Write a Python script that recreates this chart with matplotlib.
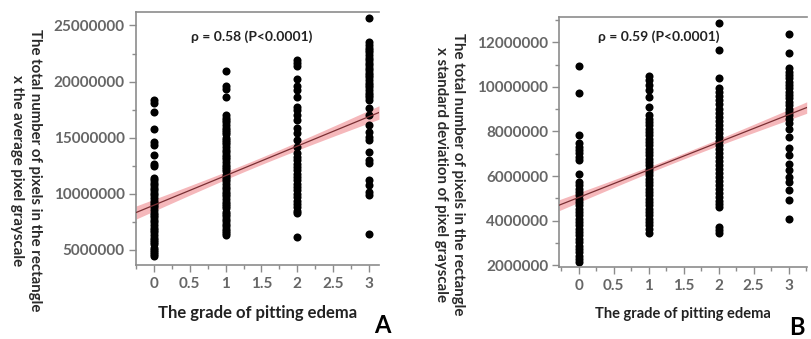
import matplotlib
matplotlib.use("Agg")
import matplotlib.pyplot as plt
from matplotlib.ticker import MultipleLocator, FixedLocator
import numpy as np

# ---- data (values in millions) ----
grades = [0, 1, 2, 3]

a_g0 = [18.4, 18.1, 17.3, 15.8, 14.6, 14.35, 13.5, 12.7, 12.5,
        11.4, 11.2, 11.0, 10.8, 10.5, 10.3, 10.1, 9.9, 9.6, 9.4, 9.2, 9.0,
        8.8, 8.6, 8.3, 8.1, 7.9, 7.7, 7.5, 7.2, 7.0, 6.8, 6.6, 6.3, 6.1,
        5.9, 5.7, 5.5, 5.2, 5.0, 4.8, 4.6, 4.45]
a_g1 = [20.9, 19.6, 19.3, 18.6,
        17.0, 16.8, 16.6, 16.4, 16.1, 15.9, 15.7, 15.5, 15.3, 15.0, 14.8,
        14.6, 14.4, 14.2, 13.9, 13.7, 13.5, 13.3, 13.1, 12.8, 12.6, 12.4,
        12.2, 12.0, 11.7, 11.5, 11.3, 11.1, 10.9, 10.6, 10.4, 10.2, 10.0,
        9.8, 9.5, 9.3, 9.1, 8.9, 8.7, 8.4, 8.2, 8.0, 7.8, 7.6, 7.3, 7.1,
        6.9, 6.7, 6.5, 6.3]
a_g2 = [21.94, 21.64, 21.35, 20.24, 19.62, 19.26, 18.67, 17.78, 17.48,
        17.03, 16.59, 15.84, 15.4, 14.8, 14.21,
        13.6, 13.3, 13.0, 12.7, 12.4, 12.1, 11.8, 11.5, 11.2, 10.9, 10.6,
        10.3, 10.0, 9.7, 9.4, 9.1, 8.8, 8.5, 8.25, 6.16]
a_g3 = [25.7, 23.57, 23.27, 23.0, 22.83, 22.6, 22.38, 22.1, 21.94, 21.7,
        21.49, 21.2, 21.05, 20.8, 20.6, 20.4, 20.16, 19.9, 19.71, 19.5,
        19.26, 19.0, 18.82, 18.6, 18.37, 17.63, 17.03, 16.14, 15.55, 15.1,
        14.8, 13.76, 13.02, 12.72, 11.23, 10.79, 10.2, 9.9, 6.46]

b_g0 = [10.95, 9.74, 7.83, 7.46, 7.3, 7.15, 7.02, 6.85, 6.71, 6.11,
        5.73, 5.58, 5.43, 5.28, 5.13, 4.98, 4.83, 4.68, 4.53, 4.38, 4.23,
        4.08, 3.93, 3.78, 3.63, 3.48, 3.33, 3.18, 3.03, 2.88, 2.73, 2.58,
        2.43, 2.28, 2.14]
b_g1 = [10.49, 10.31, 10.09, 9.86, 9.55, 9.1,
        8.73, 8.58, 8.43, 8.28, 8.13, 7.98, 7.83, 7.68, 7.53, 7.38, 7.23,
        7.08, 6.93, 6.78, 6.63, 6.48, 6.33, 6.18, 6.03, 5.88, 5.73, 5.58,
        5.43, 5.28, 5.13, 4.98, 4.83, 4.68, 4.53, 4.38, 4.23, 4.08, 3.93,
        3.78, 3.63, 3.42]
b_g2 = [12.88, 11.65, 10.41, 9.93, 9.75, 9.57, 9.39, 9.21, 9.03, 8.85,
        8.67, 8.49, 8.31, 8.13, 7.95, 7.77, 7.59, 7.41, 7.23, 7.05, 6.87,
        6.69, 6.51, 6.33, 6.15, 5.97, 5.79, 5.61, 5.43, 5.25, 5.07, 4.89,
        4.75, 4.61, 3.71, 3.56, 3.42]
b_g3 = [12.36, 11.51, 10.83, 10.68, 10.53, 10.38, 10.23, 10.08, 9.93,
        9.78, 9.63, 9.48, 9.33, 9.18, 9.03, 8.88, 8.73, 8.58, 8.36, 8.13,
        7.76, 7.24, 6.94, 6.56, 6.26, 5.96, 5.74, 5.36, 4.91, 4.09]

# fitted line: (intercept, slope) in millions
fit_a = (8.99, 2.63)
fit_b = (5.04, 1.237)
# half width of the confidence band at the data centre (millions)
ci_a = 0.32
ci_b = 0.13

panels = [
    dict(groups=[a_g0, a_g1, a_g2, a_g3], fit=fit_a, ci=ci_a,
         rect=[0.1677, 0.2183, 0.2996, 0.7463],
         xlim=(-0.25, 3.14), ylim=(3.66e6, 26.2e6),
         yticks=[5e6, 10e6, 15e6, 20e6, 25e6], yminor=2.5e6,
         ylabel="The total number of pixels in the rectangle\nx the average pixel grayscale",
         ylabel_xy=(0.032, 0.498), rho="ρ = 0.58 (P<0.0001)", rho_x=0.310,
         xlab_fs=12, letter="A", letter_xy=(0.472, 0.005)),
    dict(groups=[b_g0, b_g1, b_g2, b_g3], fit=fit_b, ci=ci_b,
         rect=[0.6896, 0.2133, 0.3051, 0.7374],
         xlim=(-0.28, 3.26), ylim=(1.93e6, 13.15e6),
         yticks=[2e6, 4e6, 6e6, 8e6, 10e6, 12e6], yminor=1e6,
         ylabel="The total number of pixels in the rectangle\nx standard deviation of pixel grayscale",
         ylabel_xy=(0.554, 0.485), rho="ρ = 0.59 (P<0.0001)", rho_x=0.812,
         xlab_fs=10.5, letter="B", letter_xy=(0.982, 0.0)),
]

plt.rcParams['font.family'] = ['Lato', 'DejaVu Sans']

fig = plt.figure(figsize=(8.11, 3.39), dpi=100)
spine_c = '#8c8c8c'
tick_c = '#666666'

for p in panels:
    ax = fig.add_axes(p['rect'])
    xs = []
    ys = []
    for g, vals in zip(grades, p['groups']):
        xs += [g] * len(vals)
        ys += [v * 1e6 for v in vals]
    xs = np.array(xs, dtype=float)
    ys = np.array(ys)

    # fit line and confidence band (standard hyperbolic shape)
    b0, b1 = p['fit'][0] * 1e6, p['fit'][1] * 1e6
    xx = np.linspace(p['xlim'][0], p['xlim'][1], 200)
    yy = b0 + b1 * xx
    n = len(xs)
    sxx = np.sum((xs - xs.mean()) ** 2)
    half = p['ci'] * 1e6 * np.sqrt(1 + n * (xx - xs.mean()) ** 2 / sxx)
    ax.fill_between(xx, yy - half, yy + half, color='#f3a6aa', alpha=0.8,
                    lw=0, zorder=1)

    ax.plot(xs, ys, 'o', color='black', markersize=5.8, markeredgewidth=0,
            zorder=2)
    ax.plot(xx, yy, color='#7a2f33', lw=0.9, zorder=3)

    ax.set_xlim(p['xlim'])
    ax.set_ylim(p['ylim'])
    ax.xaxis.set_major_locator(FixedLocator([0, 0.5, 1, 1.5, 2, 2.5, 3]))
    ax.xaxis.set_minor_locator(MultipleLocator(0.25))
    ax.set_xticklabels(['0', '0.5', '1', '1.5', '2', '2.5', '3'])
    ax.yaxis.set_major_locator(FixedLocator(p['yticks']))
    ax.yaxis.set_minor_locator(MultipleLocator(p['yminor']))
    ax.set_yticklabels([str(int(t)) for t in p['yticks']])

    for side in ['left', 'bottom', 'top']:
        ax.spines[side].set_color(spine_c)
        ax.spines[side].set_linewidth(1.2)
    ax.spines['right'].set_visible(False)
    ax.tick_params(which='major', length=5, width=1, color=spine_c,
                   labelsize=11, labelcolor=tick_c, pad=3)
    ax.tick_params(which='minor', length=3, width=1, color=spine_c)
    ax.tick_params(axis='x', which='both', pad=4)
    for lab in ax.get_xticklabels() + ax.get_yticklabels():
        lab.set_fontweight('bold')

    fig.text(p['rho_x'], 0.893, p['rho'], fontsize=10, fontweight='bold',
             color='#222222', ha='center', va='center')
    ax.set_xlabel("The grade of pitting edema", fontsize=p['xlab_fs'],
                  fontweight='bold', color='#222222', labelpad=10)
    fig.text(p['ylabel_xy'][0], p['ylabel_xy'][1], p['ylabel'],
             rotation=270, fontsize=10.8, fontweight='bold',
             color='#2a2a2a', ha='center', va='center', linespacing=1.3)
    fig.text(p['letter_xy'][0], p['letter_xy'][1], p['letter'], fontsize=17,
             fontweight='bold', color='black', ha='center', va='bottom')

fig.savefig('out.png', dpi=100)
